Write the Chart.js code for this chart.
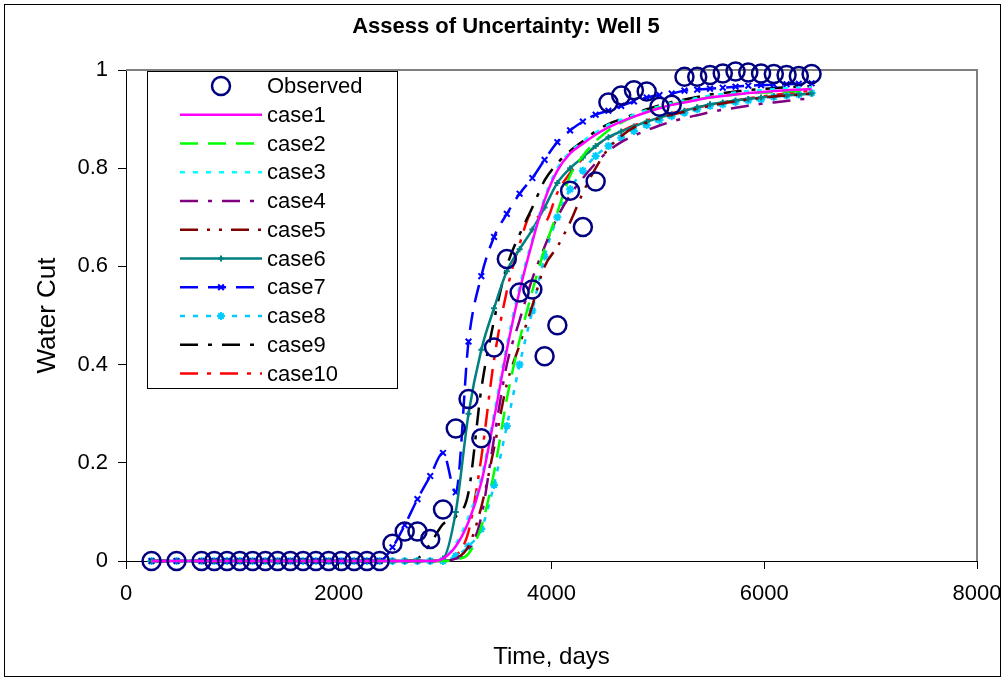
<!DOCTYPE html>
<html>

<head>
  <meta charset="utf-8">
  <title>Assess of Uncertainty: Well 5</title>
  <script src="https://cdn.jsdelivr.net/npm/chart.js"></script>
  <style>
    html, body { margin: 0; padding: 0; background: #fff; }
    canvas { display: block; }
  </style>
</head>

<body>
  <canvas id="wellChart" width="1005" height="681"></canvas>

  <script>
    // 時間（days）
    const days = [240, 475, 710, 830, 950, 1070, 1190, 1310, 1425, 1545, 1665, 1785, 1905, 2025, 2145, 2265, 2385,
      2505, 2620, 2740, 2860, 2980, 3100, 3220, 3340, 3460, 3580, 3700, 3820, 3935, 4055, 4175, 4295, 4415,
      4535, 4655, 4775, 4895, 5015, 5130, 5250, 5370, 5490, 5610, 5730, 5850, 5970, 6090, 6210, 6325, 6445];

    // 観測値
    const observed = [0, 0, 0, 0, 0, 0, 0, 0, 0, 0, 0, 0, 0, 0, 0, 0, 0,
      0.035, 0.06, 0.06, 0.045, 0.105, 0.27, 0.33, 0.25, 0.435, 0.615, 0.547, 0.553, 0.417, 0.48, 0.754, 0.68,
      0.773, 0.934, 0.948, 0.959, 0.956, 0.925, 0.929, 0.986, 0.986, 0.99, 0.993, 0.997, 0.995, 0.993, 0.992,
      0.99, 0.988, 0.992];

    // シミュレーション結果
    const case1 = [0, 0, 0, 0, 0, 0, 0, 0, 0, 0, 0, 0, 0, 0, 0, 0, 0, 0, 0, 0, 0,
      0.005, 0.03, 0.08, 0.16, 0.29, 0.43, 0.55, 0.65, 0.735, 0.795, 0.83, 0.85, 0.868, 0.883, 0.895, 0.905,
      0.914, 0.922, 0.929, 0.934, 0.939, 0.944, 0.947, 0.95, 0.953, 0.955, 0.957, 0.959, 0.96, 0.961];
    const case2 = [0, 0, 0, 0, 0, 0, 0, 0, 0, 0, 0, 0, 0, 0, 0, 0, 0, 0, 0, 0, 0,
      0, 0.003, 0.015, 0.07, 0.18, 0.33, 0.45, 0.55, 0.635, 0.71, 0.785, 0.825, 0.855, 0.877, 0.893, 0.905,
      0.915, 0.923, 0.93, 0.935, 0.94, 0.944, 0.947, 0.95, 0.952, 0.954, 0.955, 0.956, 0.957, 0.958];
    const case3 = [0, 0, 0, 0, 0, 0, 0, 0, 0, 0, 0, 0, 0, 0, 0, 0, 0, 0, 0, 0, 0,
      0.005, 0.035, 0.09, 0.17, 0.3, 0.44, 0.56, 0.655, 0.74, 0.8, 0.833, 0.855, 0.873, 0.888, 0.899, 0.909,
      0.918, 0.926, 0.933, 0.938, 0.943, 0.948, 0.951, 0.954, 0.957, 0.959, 0.961, 0.963, 0.964, 0.965];
    const case4 = [0, 0, 0, 0, 0, 0, 0, 0, 0, 0, 0, 0, 0, 0, 0, 0, 0, 0, 0, 0, 0,
      0, 0.005, 0.02, 0.09, 0.25, 0.4, 0.49, 0.575, 0.64, 0.7, 0.745, 0.78, 0.81, 0.835, 0.853, 0.866,
      0.877, 0.887, 0.895, 0.902, 0.908, 0.914, 0.919, 0.923, 0.927, 0.931, 0.934, 0.937, 0.94, 0.942];
    const case5 = [0, 0, 0, 0, 0, 0, 0, 0, 0, 0, 0, 0, 0, 0, 0, 0, 0, 0, 0, 0, 0,
      0, 0.005, 0.03, 0.11, 0.23, 0.36, 0.44, 0.52, 0.6, 0.64, 0.69, 0.75, 0.8, 0.84, 0.865, 0.883,
      0.893, 0.902, 0.909, 0.915, 0.921, 0.927, 0.932, 0.936, 0.94, 0.943, 0.946, 0.948, 0.95, 0.952];
    const case6 = [0, 0, 0, 0, 0, 0, 0, 0, 0, 0, 0, 0, 0, 0, 0, 0, 0, 0, 0, 0, 0,
      0.005, 0.1, 0.3, 0.43, 0.515, 0.59, 0.635, 0.675, 0.72, 0.77, 0.8, 0.822, 0.845, 0.863, 0.875, 0.885,
      0.895, 0.903, 0.91, 0.917, 0.924, 0.93, 0.934, 0.938, 0.941, 0.944, 0.946, 0.948, 0.95, 0.952];
    const case7 = [0, 0, 0, 0, 0, 0, 0, 0, 0, 0, 0, 0, 0, 0, 0, 0,
      0, 0.028, 0.073, 0.126, 0.173, 0.22, 0.14, 0.447, 0.58, 0.66, 0.707, 0.748, 0.78, 0.817, 0.853, 0.877,
      0.895, 0.909, 0.917, 0.927, 0.936, 0.944, 0.949, 0.952, 0.958, 0.96, 0.962, 0.964, 0.966, 0.968, 0.969,
      0.97, 0.971, 0.972, 0.973];
    const case8 = [0, 0, 0, 0, 0, 0, 0, 0, 0, 0, 0, 0, 0, 0, 0, 0, 0, 0, 0, 0, 0,
      0, 0.01, 0.03, 0.065, 0.155, 0.275, 0.4, 0.51, 0.62, 0.7, 0.757, 0.795, 0.825, 0.845, 0.862, 0.876,
      0.888, 0.898, 0.906, 0.913, 0.92, 0.927, 0.93, 0.935, 0.938, 0.94, 0.945, 0.948, 0.95, 0.953];
    const case9 = [0, 0, 0, 0, 0, 0, 0, 0, 0, 0, 0, 0, 0, 0, 0, 0, 0, 0, 0,
      0.005, 0.035, 0.075, 0.09, 0.14, 0.35, 0.49, 0.6, 0.665, 0.72, 0.775, 0.81, 0.835, 0.855, 0.875, 0.89,
      0.9, 0.91, 0.92, 0.928, 0.935, 0.94, 0.945, 0.95, 0.953, 0.956, 0.959, 0.961, 0.963, 0.965, 0.966, 0.967];
    const case10 = [0, 0, 0, 0, 0, 0, 0, 0, 0, 0, 0, 0, 0, 0, 0, 0, 0, 0, 0, 0, 0,
      0, 0.01, 0.06, 0.21, 0.41, 0.55, 0.645, 0.71, 0.69, 0.75, 0.79, 0.82, 0.845, 0.862, 0.875, 0.887,
      0.897, 0.905, 0.912, 0.918, 0.924, 0.929, 0.934, 0.938, 0.942, 0.946, 0.949, 0.952, 0.955, 0.958];

    // 目盛り
    const xTicks = [0, 2000, 4000, 6000, 8000];
    const yTicks = [0, 0.2, 0.4, 0.6, 0.8, 1];

    const FONT = '"Liberation Sans", Arial, sans-serif';
    Chart.defaults.font.family = FONT;
    Chart.defaults.color = '#000';

    // x,y の組にする
    function toPoints(values) {
      return values.map((v, i) => ({ x: days[i], y: v }));
    }

    // ケースごとの線
    function caseLine(label, values, color, dash, style, radius) {
      return {
        label: label,
        data: toPoints(values),
        borderColor: color,
        backgroundColor: color,
        borderWidth: 2.5,
        borderDash: dash,
        pointStyle: style || 'circle',
        pointRadius: radius || 0,
        pointBorderWidth: 2,
        pointBorderColor: color,
        pointBackgroundColor: color,
        cubicInterpolationMode: 'monotone',
        fill: false,
        clip: false
      };
    }

    const datasets = [
      {
        label: 'Observed',
        data: toPoints(observed),
        showLine: false,
        borderColor: '#000080',
        backgroundColor: 'rgba(0,0,0,0)',
        pointStyle: 'circle',
        pointRadius: 9,
        pointBorderWidth: 2.5,
        pointBorderColor: '#000080',
        pointBackgroundColor: 'rgba(0,0,0,0)',
        clip: false
      },
      caseLine('case1', case1, '#FF00FF', []),
      caseLine('case2', case2, '#00FF00', [18, 10]),
      caseLine('case3', case3, '#00FFFF', [5, 8]),
      caseLine('case4', case4, '#800080', [18, 10, 4, 10]),
      caseLine('case5', case5, '#800000', [18, 9, 3, 9, 3, 9]),
      caseLine('case6', case6, '#008080', [], 'cross', 3),
      caseLine('case7', case7, '#0000FF', [18, 10], 'crossRot', 4),
      caseLine('case8', case8, '#00CCFF', [5, 8], 'star', 4),
      caseLine('case9', case9, '#000000', [18, 10, 4, 10]),
      caseLine('case10', case10, '#FF0000', [18, 9, 4, 9])
    ];

    // 外枠・プロット枠・タイトル
    const frame = {
      id: 'frame',
      beforeDatasetsDraw(chart) {
        const ctx = chart.ctx;
        const a = chart.chartArea;
        ctx.save();
        ctx.strokeStyle = '#808080';
        ctx.lineWidth = 2;
        ctx.beginPath();
        ctx.moveTo(a.left, a.top);
        ctx.lineTo(a.right, a.top);
        ctx.lineTo(a.right, a.bottom);
        ctx.stroke();
        ctx.strokeStyle = '#000';
        ctx.lineWidth = 1;
        ctx.strokeRect(4.5, 4.5, 996, 672);
        ctx.fillStyle = '#000';
        ctx.font = 'bold 22px ' + FONT;
        ctx.textAlign = 'center';
        ctx.textBaseline = 'middle';
        ctx.fillText('Assess of Uncertainty: Well 5', 506, 27);
        ctx.restore();
      }
    };

    // 凡例（プロット内の枠）
    const legendBox = {
      id: 'legendBox',
      afterDraw(chart) {
        const ctx = chart.ctx;
        ctx.save();
        ctx.fillStyle = '#fff';
        ctx.fillRect(147, 71, 250, 317);
        ctx.strokeStyle = '#000';
        ctx.lineWidth = 1;
        ctx.strokeRect(147.5, 71.5, 250, 317);
        chart.data.datasets.forEach((ds, i) => {
          const y = 86 + i * 28.75;
          if (ds.showLine !== false) {
            ctx.beginPath();
            ctx.setLineDash(ds.borderDash || []);
            ctx.strokeStyle = ds.borderColor;
            ctx.lineWidth = ds.borderWidth;
            ctx.moveTo(180, y);
            ctx.lineTo(262, y);
            ctx.stroke();
          }
          ctx.setLineDash([]);
          if (ds.pointRadius > 0) {
            ctx.strokeStyle = ds.pointBorderColor;
            ctx.fillStyle = ds.pointBackgroundColor;
            ctx.lineWidth = ds.pointBorderWidth;
            Chart.helpers.drawPoint(ctx, {
              pointStyle: ds.pointStyle,
              radius: ds.pointRadius,
              borderWidth: ds.pointBorderWidth,
              rotation: 0
            }, 221, y);
          }
          ctx.fillStyle = '#000';
          ctx.font = '22px ' + FONT;
          ctx.textAlign = 'left';
          ctx.textBaseline = 'middle';
          ctx.fillText(ds.label, 267, y + 1);
        });
        ctx.restore();
      }
    };

    const ctx = document.getElementById('wellChart').getContext('2d');
    new Chart(ctx, {
      type: 'line',
      data: { datasets: datasets },
      plugins: [frame, legendBox],
      options: {
        responsive: false,
        animation: false,
        events: [],
        layout: { padding: { top: 70, right: 28, left: 0, bottom: 0 } },
        plugins: {
          legend: { display: false },
          title: { display: false },
          tooltip: { enabled: false }
        },
        scales: {
          x: {
            type: 'linear',
            min: 0,
            max: 8000,
            afterBuildTicks: (scale) => { scale.ticks = xTicks.map(v => ({ value: v })); },
            afterFit: (scale) => {
              scale.height = 120;
              scale.paddingLeft = 0;
              scale.paddingRight = 0;
            },
            ticks: {
              font: { size: 22 },
              padding: 12,
              maxRotation: 0,
              callback: (v) => String(v)
            },
            grid: { drawOnChartArea: false, drawTicks: true, tickLength: 8, color: '#000' },
            border: { display: true, color: '#000', width: 1 },
            title: { display: true, text: 'Time, days', font: { size: 24 }, padding: { top: 0, bottom: 9 } }
          },
          y: {
            type: 'linear',
            min: 0,
            max: 1,
            afterBuildTicks: (scale) => { scale.ticks = yTicks.map(v => ({ value: v })); },
            afterFit: (scale) => {
              scale.width = 126;
              scale.paddingTop = 0;
              scale.paddingBottom = 0;
            },
            ticks: {
              font: { size: 22 },
              padding: 10,
              callback: (v) => String(v)
            },
            grid: { drawOnChartArea: false, drawTicks: true, tickLength: 8, color: '#000' },
            border: { display: true, color: '#000', width: 1 },
            title: { display: true, text: 'Water Cut', font: { size: 26 }, padding: { top: 32, bottom: 0 } }
          }
        }
      }
    });
  </script>

</body>

</html>
